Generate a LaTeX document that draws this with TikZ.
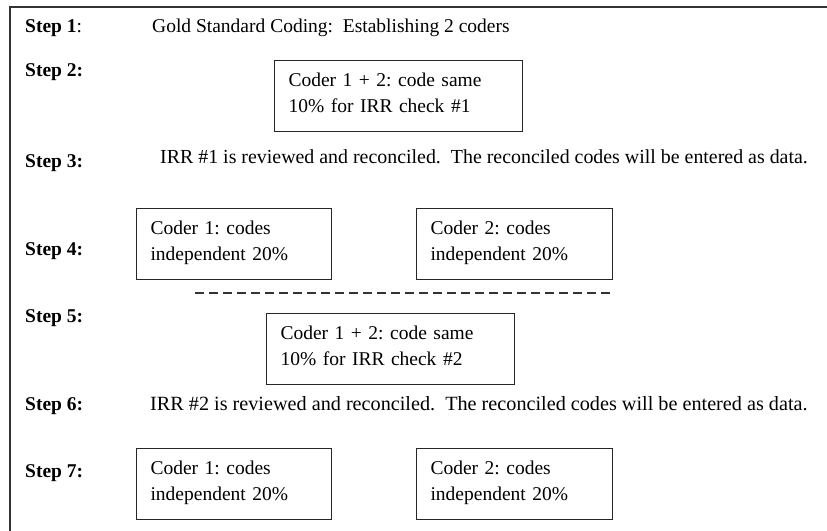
\documentclass[tikz,border=0pt]{standalone}
\usepackage{fontspec}
\setmainfont{Liberation Serif}
\frenchspacing
\newcommand{\twolines}[2]{\rule{0pt}{26pt}#1\\#2\rule[-19.5pt]{0pt}{19.5pt}}
\begin{document}
\begin{tikzpicture}[x=1pt,y=-1pt,
  every node/.style={font=\fontsize{19.5}{25.5}\selectfont\frenchspacing, inner sep=0pt},
  lbl/.style={anchor=base west},
  txt/.style={anchor=base west},
  boxa/.style={draw=black!85, line width=1.1pt, anchor=north west, align=left,
    inner xsep=14pt, inner ysep=0pt, text width=220pt},
  boxb/.style={boxa, text width=167pt},
  frame/.style={draw=black!80, line width=1.3pt},
  sep/.style={draw=black!80, line width=1.1pt, dash pattern=on 9pt off 5pt}]
\useasboundingbox (0,0) rectangle (827,530);
\draw[frame] (10,531) -- (10,7) -- (828,7);
% step labels
\node[lbl] (l1) at (25,32) {\textbf{Step 1}:};
\node[lbl] (l2) at (25,76) {\textbf{Step 2:}};
\node[lbl] (l3) at (25,167) {\textbf{Step 3:}};
\node[lbl] (l4) at (25,255) {\textbf{Step 4:}};
\node[lbl] (l5) at (25,322) {\textbf{Step 5:}};
\node[lbl] (l6) at (25,410) {\textbf{Step 6:}};
\node[lbl] (l7) at (25,477) {\textbf{Step 7:}};
% texts
\node[txt] (t1) at (152,32) {Gold Standard Coding:\ \ Establishing 2 coders};
\node[txt, font=\fontsize{19.9}{25.5}\selectfont\frenchspacing] (t3) at (160,163) {IRR \#1 is reviewed and reconciled.\ \ The reconciled codes will be entered as data.};
\node[txt, font=\fontsize{20.2}{25.5}\selectfont\frenchspacing] (t6) at (150,410) {IRR \#2 is reviewed and reconciled.\ \ The reconciled codes will be entered as data.};
% boxes
\node[boxa] (b2) at (274,60) {\twolines{Coder 1 + 2: code same}{10\% for IRR check \#1}};
\node[boxb] (b4a) at (136,208) {\twolines{Coder 1: codes}{independent 20\%}};
\node[boxb, text width=168pt] (b4b) at (416,208) {\twolines{Coder 2: codes}{independent 20\%}};
\coordinate (d1) at (195,293);
\coordinate (d2) at (613,293);
\draw[sep] (d1) -- (d2);
\node[boxa] (b5) at (266,313) {\twolines{Coder 1 + 2: code same}{10\% for IRR check \#2}};
\node[boxb] (b7a) at (136,448) {\twolines{Coder 1: codes}{independent 20\%}};
\node[boxb, text width=168pt] (b7b) at (416,448) {\twolines{Coder 2: codes}{independent 20\%}};
\end{tikzpicture}
\end{document}
